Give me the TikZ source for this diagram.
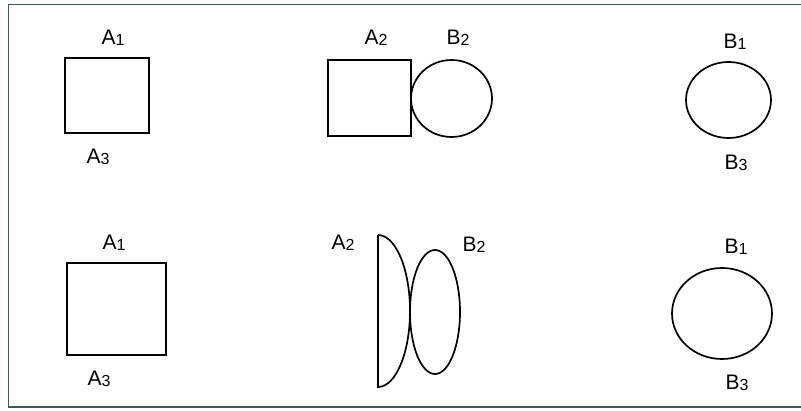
\documentclass[tikz,border=0pt]{standalone}
\usepackage{fontspec}
\setmainfont{Liberation Sans}
\newcommand{\lbl}[2]{{\fontsize{21}{21}\selectfont #1}\raisebox{-1pt}{\fontsize{16}{16}\selectfont #2}}
\begin{document}
\begin{tikzpicture}[x=1pt,y=-1pt,
  shp/.style={draw=black,line width=1.7pt},
  lab/.style={inner sep=0pt,anchor=center}]
\useasboundingbox (0,0) rectangle (801,411);
\fill[white] (0,0) rectangle (801,411);
% frame
\draw[color={rgb,255:red,70;green,85;blue,85},line width=1.6pt] (801,4.5) -- (8.5,4.5) -- (8.5,407) -- (801,407);
% top row
\draw[shp] (65,58) rectangle (149,133);
\node[lab] (a1t) at (113,38) {\lbl{A}{1}};
\node[lab] (a3t) at (98,157) {\lbl{A}{3}};
\draw[shp] (328,60) rectangle (411,136);
\draw[shp] (451.5,98.5) ellipse [x radius=40.5, y radius=38.5];
\node[lab] (a2t) at (376,38) {\lbl{A}{2}};
\node[lab] (b2t) at (458,38) {\lbl{B}{2}};
\draw[shp] (728.5,100) ellipse [x radius=42.5, y radius=38];
\node[lab] (b1t) at (735,42) {\lbl{B}{1}};
\node[lab] (b3t) at (736,163) {\lbl{B}{3}};
% bottom row
\draw[shp] (67,263) rectangle (166,355);
\node[lab] (a1b) at (114,243) {\lbl{A}{1}};
\node[lab] (a3b) at (99,379) {\lbl{A}{3}};
\draw[shp] (378,235) -- (378,387) arc[start angle=90, end angle=-90, x radius=32, y radius=76];
\draw[shp] (435,312) ellipse [x radius=25, y radius=62];
\node[lab] (a2b) at (343,243) {\lbl{A}{2}};
\node[lab] (b2b) at (474,245) {\lbl{B}{2}};
\draw[shp] (722,313.5) ellipse [x radius=50, y radius=45.5];
\node[lab] (b1b) at (736,247) {\lbl{B}{1}};
\node[lab] (b3b) at (737,383) {\lbl{B}{3}};
\end{tikzpicture}
\end{document}
